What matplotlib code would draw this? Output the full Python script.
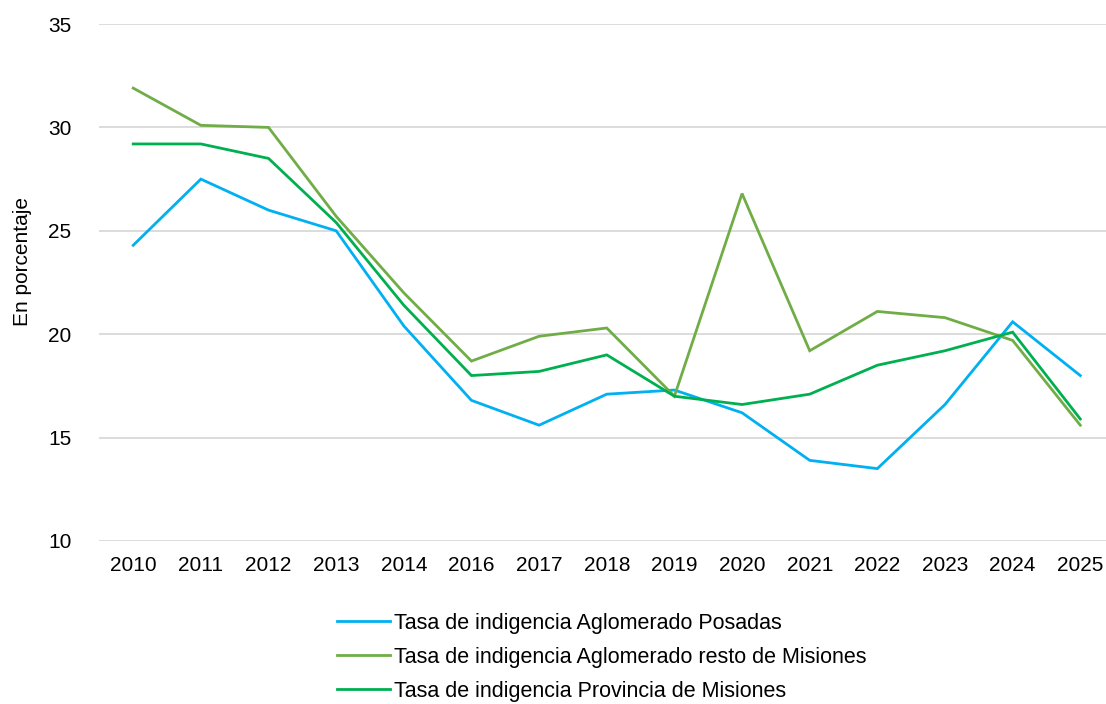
import numpy as np
import matplotlib
matplotlib.use('Agg')
import matplotlib.pyplot as plt

# data
years = ['2010', '2011', '2012', '2013', '2014', '2016', '2017', '2018',
         '2019', '2020', '2021', '2022', '2023', '2024', '2025']
posadas = [24.3, 27.5, 26.0, 25.0, 20.4, 16.8, 15.6, 17.1, 17.3, 16.2, 13.9, 13.5, 16.6, 20.6, 18.0]
resto = [31.9, 30.1, 30.0, 25.7, 22.0, 18.7, 19.9, 20.3, 17.0, 26.8, 19.2, 21.1, 20.8, 19.7, 15.6]
provincia = [29.2, 29.2, 28.5, 25.4, 21.4, 18.0, 18.2, 19.0, 17.0, 16.6, 17.1, 18.5, 19.2, 20.1, 15.9]

labels = ['Tasa de indigencia Aglomerado Posadas',
          'Tasa de indigencia Aglomerado resto de Misiones',
          'Tasa de indigencia Provincia de Misiones']
colors = ['#00B0F0', '#70AD47', '#00B050']

plt.rcParams['font.family'] = ['Liberation Sans', 'DejaVu Sans']
plt.rcParams['font.size'] = 15

fig = plt.figure(figsize=(11.06, 7.04), dpi=100)
ax = fig.add_axes([99.4 / 1106, (704 - 541) / 704, (1106 - 99.4) / 1106, 517 / 704])

x = np.arange(len(years))
for vals, lab, col in zip([posadas, resto, provincia], labels, colors):
    ax.plot(x, vals, color=col, lw=2.0, label=lab, solid_joinstyle='miter')

ax.set_ylim(10, 35)
ax.set_yticks(np.arange(10, 36, 5))
ax.set_xlim(-0.5, 14.38)
ax.set_xticks(x)
ax.set_xticklabels(years)
ax.grid(axis='y', color='#D9D9D9', lw=1.3)
ax.set_axisbelow(True)
for s in ax.spines.values():
    s.set_visible(False)
ax.tick_params(axis='both', length=0)
ax.tick_params(axis='y', pad=20)
ax.tick_params(axis='x', pad=11)
ax.set_ylabel('En porcentaje')
ax.yaxis.set_label_coords(-0.0668, 0.54)

# legend under the plot, pulled up a little so the last row stays inside
fig.legend(loc='upper left', bbox_to_anchor=(337 / 1106, 1 - 613 / 704),
           frameon=False, fontsize=15.5, handlelength=2.45, handletextpad=0.2,
           labelspacing=0.6, borderaxespad=0, borderpad=0)

fig.savefig('out.png', dpi=100)
